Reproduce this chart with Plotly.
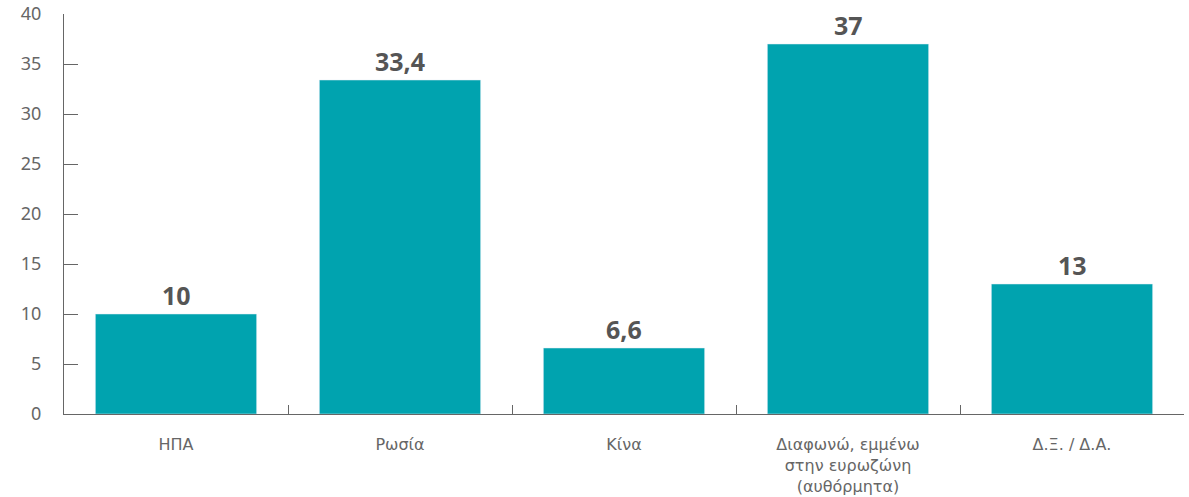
import plotly.graph_objects as go

categories = ["ΗΠΑ", "Ρωσία", "Κίνα", "Διαφωνώ, εμμένω<br>στην ευρωζώνη<br>(αυθόρμητα)", "Δ.Ξ. / Δ.Α."]
values = [10, 33.4, 6.6, 37, 13]
value_labels = ["10", "33,4", "6,6", "37", "13"]
y_ticks = [0, 5, 10, 15, 20, 25, 30, 35, 40]

fig = go.Figure(go.Bar(
    x=categories, y=values,
    marker_color="#00A3AF",
    width=0.72,
    hoverinfo="x+y",
))

for c, v, t in zip(categories, values, value_labels):
    fig.add_annotation(
        x=c, y=v, text=t, showarrow=False, yanchor="bottom", yshift=0,
        font=dict(family="Noto Sans", size=25, color="#555555", weight="bold"),
    )

fig.update_layout(
    width=1189, height=497,
    margin=dict(l=64, r=5, t=14, b=83),
    plot_bgcolor="white", paper_bgcolor="white",
    showlegend=False,
    font=dict(family="Noto Sans", size=17, color="#666666"),
)
fig.update_yaxes(
    range=[0, 40], tickvals=y_ticks, showgrid=False, zeroline=False,
    showline=True, linecolor="#666666", linewidth=1,
    ticks="inside", ticklen=14, tickcolor="#666666",
    ticklabelstandoff=18, automargin=False,
    tickfont=dict(size=18, color="#666666"),
)
fig.update_xaxes(
    showgrid=False, showline=True, linecolor="#666666", linewidth=1,
    ticks="inside", ticklen=9, tickcolor="#666666", tickson="boundaries",
    ticklabelstandoff=16, automargin=False,
    tickfont=dict(family="DejaVu Sans", size=16, color="#666666"),
)

fig.write_html("out.html", config={"displayModeBar": False},
               post_script="document.body.style.margin='0';")
